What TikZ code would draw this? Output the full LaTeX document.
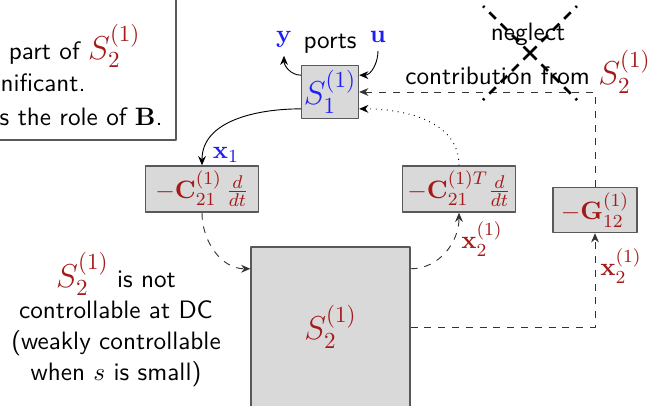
\documentclass[tikz,border=0pt,11pt]{standalone}
\usepackage{amsmath,amssymb}
\usepackage{tikz}
\usetikzlibrary{arrows.meta}
\definecolor{sysblue}{RGB}{30,30,250}
\definecolor{sysred}{RGB}{165,25,25}
\newcommand{\subsys}[1]{\textcolor{sysred}{\Large$S_#1^{(1)}$}}
\tikzset{
  every picture/.style={font=\sffamily, line join=round, >={Stealth[length=4pt,width=3.4pt]}},
  blockbox/.style={draw=black!65, fill=black!15, line width=0.6pt, inner sep=1pt},
  sigline/.style={draw=black!80, dashed},
  crossline/.style={very thick, dash pattern=on 4pt off 3pt},
  remark/.style={anchor=base east, inner sep=0pt},
}

\begin{document}
\begin{tikzpicture}[x=0.4348pt,y=-0.4348pt]
\useasboundingbox (0,0) rectangle (652,405);
% remark box, cut by the frame
\draw[draw=black!65, line width=0.6pt] (-30,-30) rectangle (176,140);
\node[remark] (rem1) at (141,59) {e part of \subsys{2}};
\node[remark] (rem2) at (86,91) {nificant.};
\node[remark] (rem3) at (163,125) {s the role of $\mathbf{B}$.};
% S1 and its ports
\node[blockbox, minimum size=23.2pt, text=sysblue, font=\Large] (s1) at (330,92) {$S_1^{(1)}$};
\node[anchor=base, text=sysblue] (y) at (284,42) {$\mathbf{y}$};
\node[anchor=base] (ports) at (330,48) {ports};
\node[anchor=base, text=sysblue] (u) at (378,42) {$\mathbf{u}$};
\draw[->] (s1.150) to[out=180,in=-90] (y.south);
\draw[->] (u.south) to[out=-90,in=0] (s1.30);
% coupling blocks
\node[blockbox, minimum width=49pt, minimum height=20pt, text=sysred] (c21) at (202,189) {$-\mathbf{C}_{21}^{(1)}\,\frac{d}{dt}$};
\node[blockbox, minimum width=49pt, minimum height=20pt, text=sysred] (c21t) at (459,189) {$-\mathbf{C}_{21}^{(1)T}\frac{d}{dt}$};
\node[blockbox, minimum width=36.5pt, minimum height=19.6pt, text=sysred] (g12) at (595,210) {$-\mathbf{G}_{12}^{(1)}$};
\node[blockbox, minimum width=69.1pt, minimum height=69.6pt, text=sysred, font=\Large] (s2) at (330.5,327) {$S_2^{(1)}$};
% signals
\draw[->] (s1.210) to[out=180,in=90] (c21.north);
\draw[->, dotted] (c21t.north) to[out=90,in=0] (s1.330);
\draw[->, sigline] (c21.south) to[out=-90,in=180] (s2.144);
\draw[->, sigline] (s2.36) to[out=0,in=-90] (c21t.south);
\draw[->, sigline] (s2.east) -| (g12.south);
\draw[->, sigline] (g12.north) |- (s1.east);
\node[text=sysblue] (x1) at (226,155) {$\mathbf{x}_1$};
\node[text=sysred] (x2a) at (482,239) {$\mathbf{x}_2^{(1)}$};
\node[text=sysred] (x2b) at (621,266) {$\mathbf{x}_2^{(1)}$};
% notes
\node[align=center] (note) at (116,320) {\subsys{2} is not\\controllable at DC\\(weakly controllable\\when $s$ is small)};
\node[align=center] (negl) at (528,58) {neglect\\[1pt]contribution from \subsys{2}};
\coordinate (nx) at (530,53);
\foreach \dx/\dy in {47/47, 47/-47, -47/47, -47/-47} {\draw[crossline] (nx) -- ++(\dx,\dy);}
\end{tikzpicture}
\end{document}
